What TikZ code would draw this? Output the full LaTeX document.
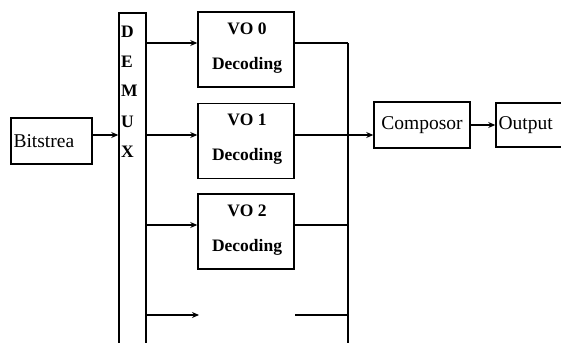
\documentclass[tikz,border=0pt]{standalone}
\usepackage{fontspec}
\setmainfont{Liberation Serif}
\usetikzlibrary{arrows.meta}
\begin{document}
\begin{tikzpicture}[x=1pt,y=-1pt,
  box/.style={draw,line width=1.5pt,inner sep=0pt,minimum width=#1},
  vobox/.style={box=96pt,minimum height=75pt},
  votext/.style={font=\fontsize{17.5}{35}\selectfont\bfseries,align=center},
  lbl/.style={font=\fontsize{19.5}{22}\selectfont},
  ln/.style={line width=1.5pt},
  arr/.style={line width=1.5pt,-{Stealth[length=7pt,width=6pt]}}]
\useasboundingbox (0,0) rectangle (561,342);
\node[box=81pt,minimum height=46pt,lbl,text width=76pt,align=left] (bit) at (51.5,141) {Bitstrea};
\node[box=27pt,minimum height=337pt] (demux) at (132.5,181.5) {};
\foreach \l/\y in {D/32,E/62,M/91,U/122,X/152}
  \node[font=\fontsize{17.5}{20}\selectfont\bfseries,anchor=west,inner sep=0pt] at (121,\y) {\l};
\node[vobox] (vo0) at (246,49.5) {};
\node[vobox] (vo1) at (246,141) {};
\node[vobox] (vo2) at (246,231.5) {};
\node[votext] at (247,48.5) {VO 0\\Decoding};
\node[votext] at (247,139.5) {VO 1\\Decoding};
\node[votext] at (247,230) {VO 2\\Decoding};
\node[box=96pt,minimum height=46pt,lbl] (comp) at (422,125) {Composor};
\node[box=67pt,minimum height=44pt,lbl,text width=62pt,align=left] (out) at (529.5,125) {Output};
\coordinate (e3) at (199,315);
\coordinate (s3) at (295,315);
\coordinate (btop) at (348,43);
\coordinate (bbot) at (348,350);
% input
\draw[arr] (bit.east |- 0,135) -- (demux.west |- 0,135);
% demux outputs
\draw[arr] (demux.east |- 0,43) -- (vo0.west |- 0,43);
\draw[arr] (demux.east |- 0,135) -- (vo1.west |- 0,135);
\draw[arr] (demux.east |- 0,225) -- (vo2.west |- 0,225);
\draw[arr] (demux.east |- e3) -- (e3);
% to bus
\draw[ln] (vo0.east |- btop) -- (btop);
\draw[ln] (vo1.east |- 0,135) -- (btop |- 0,135);
\draw[ln] (vo2.east |- 0,225) -- (btop |- 0,225);
\draw[ln] (s3) -- (btop |- s3);
\draw[ln] (btop) -- (bbot);
\draw[arr] (btop |- 0,135) -- (comp.west |- 0,135);
\draw[arr] (comp.east) -- (out.west);
\end{tikzpicture}
\end{document}
